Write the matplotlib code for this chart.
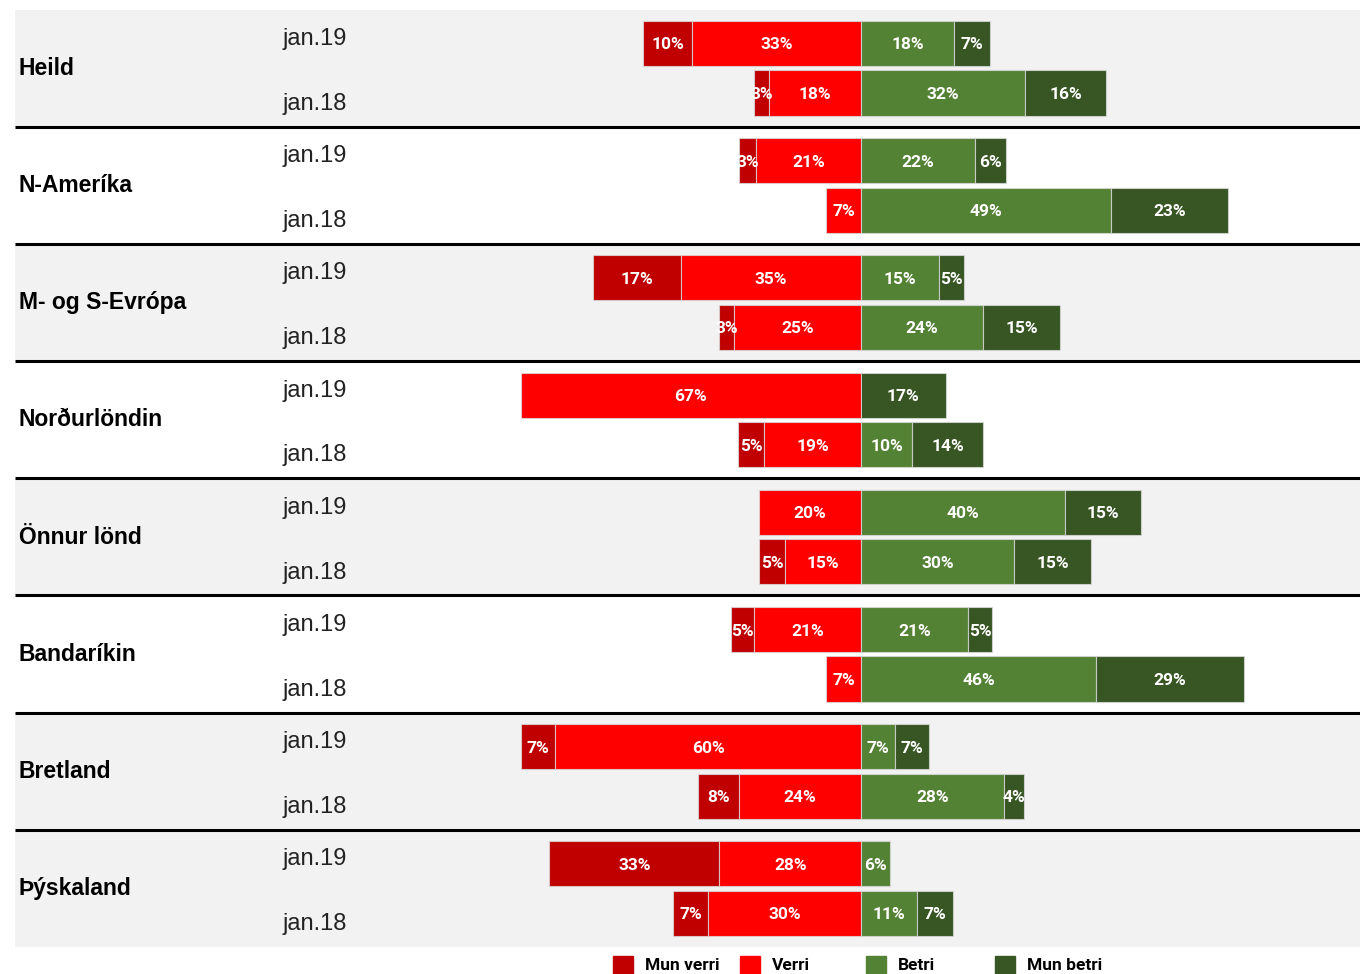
import matplotlib
matplotlib.use("Agg")
import matplotlib.pyplot as plt
from matplotlib.patches import Rectangle
from matplotlib.transforms import blended_transform_factory

# Hópar og tímabil
groups = ['Heild', 'N-Ameríka', 'M- og S-Evrópa', 'Norðurlöndin',
          'Önnur lönd', 'Bandaríkin', 'Bretland', 'Þýskaland']
periods = ['jan.19', 'jan.18']
categories = ['Mun verri', 'Verri', 'Betri', 'Mun betri']
colors = ['#c00000', '#ff0000', '#548235', '#375623']

# Hlutföll (%) fyrir [jan.19, jan.18]
mun_verri = [[9.6, 2.9], [3.3, 0.0], [17.3, 2.9], [0.0, 5.1],
             [0.0, 5.1], [4.6, 0.0], [6.7, 8.0], [33.3, 6.9]]
verri = [[33.1, 18.0], [20.6, 6.9], [35.3, 24.9], [66.7, 19.0],
         [20.0, 14.9], [21.0, 6.9], [60.0, 23.9], [27.8, 30.0]]
betri = [[18.2, 32.2], [22.4, 49.0], [15.3, 23.9], [0.0, 10.0],
         [40.0, 30.0], [21.0, 46.1], [6.7, 28.0], [5.6, 11.0]]
mun_betri = [[7.1, 15.9], [6.1, 22.9], [4.9, 15.1], [16.6, 13.9],
             [14.9, 15.1], [4.6, 29.0], [6.6, 3.9], [0.0, 7.1]]

# grátt / hvítt bakgrunnur fyrir hvern hóp
shaded = [True, False, True, False, True, False, True, True]

BAR_FONT = ['Roboto', 'DejaVu Sans']
LBL_FONT = ['Liberation Sans', 'DejaVu Sans']

G = 2.368      # bil milli hópa (í röðum)
PAD = 0.68     # bakgrunnur fyrir ofan / neðan súlur
BAR_H = 0.91

fig = plt.figure(figsize=(13.6, 9.74), dpi=100)
ax = fig.add_axes([0, 0, 1, 1])
ax.set_xlim(-168.8, 97.8)
ax.set_ylim(18.80, -0.879)
ax.axis('off')

tr = blended_transform_factory(ax.transAxes, ax.transData)

def seg_label(x, y, v):
    if v > 0:
        ax.text(x, y + 0.03, f"{v:.0f}%", ha='center', va='center', color='white',
                fontsize=12.5, fontweight='bold', family=BAR_FONT, zorder=5)

for i, g in enumerate(groups):
    base = i * G
    top, bot = base - PAD, base + 1 + PAD
    if shaded[i]:
        ax.add_patch(Rectangle((15 / 1360, top), 1 - 15 / 1360, bot - top,
                               transform=tr, color='#f2f2f2', zorder=0, lw=0))
    if i < len(groups) - 1:
        ax.plot([15 / 1360, 1], [bot, bot], transform=tr, color='black',
                lw=2.2, zorder=1, solid_capstyle='butt')
    ax.text(19 / 1360, base + 0.5, g, transform=tr, ha='left', va='center',
            fontsize=16.5, fontweight='bold', family=LBL_FONT)
    for j, p in enumerate(periods):
        y = base + j
        ax.text(282 / 1360, y + (-0.09 if j == 0 else 0.22), p, transform=tr,
                ha='left', va='center', fontsize=17, family=LBL_FONT, color='#222222')
        mv, v, b, mb = mun_verri[i][j], verri[i][j], betri[i][j], mun_betri[i][j]
        segs = [(-(mv + v), mv), (-v, v), (0, b), (b, mb)]
        for k, (left, w) in enumerate(segs):
            if w <= 0:
                continue
            ax.barh(y, w, left=left, height=BAR_H, color=colors[k],
                    edgecolor=(0.85, 0.85, 0.85, 0.8), linewidth=0.8, zorder=3)
            seg_label(left + w / 2, y, w)

# skýringar neðst
leg_x = [613, 740, 866, 995]
for k in range(len(categories)):
    x0 = leg_x[k] / 1360
    fig.patches.append(Rectangle((x0, -0.01), 20 / 1360, 28 / 974,
                                 transform=fig.transFigure, color=colors[k]))
    fig.text(x0 + 32 / 1360, 9 / 974, categories[k], ha='left', va='center',
             fontsize=12.5, fontweight='bold', family=BAR_FONT, color='black')

fig.savefig('out.png', dpi=100)
